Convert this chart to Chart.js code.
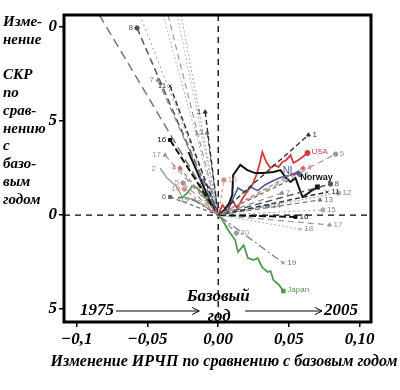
<!DOCTYPE html>
<html><head><meta charset="utf-8">
<script src="https://cdn.jsdelivr.net/npm/chart.js@4.4.1/dist/chart.umd.min.js"></script>
<style>html,body{margin:0;padding:0;background:#fff;overflow:hidden}</style>
</head><body>
<canvas id="c" width="400" height="390" style="display:block;width:400px;height:390px"></canvas>
<script>
// ---------- data ----------
const xTickValues = [-0.1, -0.05, 0, 0.05, 0.1];
const xTickLabels = ['−0,1', '−0,05', '0,00', '0,05', '0,10'];
const yTickValues = [-5, 0, 5, 10];
const yTickLabels = ['5', '0', '5', '0'];
const xTitle = 'Изменение ИРЧП по сравнению с базовым годом';
const yTitleLines = ['Изме-', 'нение', '', 'СКР', 'по', 'срав-', 'нению', 'с', 'базо-', 'вым', 'годом'];
const yearStart = '1975';
const yearBase = ['Базовый', 'год'];
const yearEnd = '2005';
const baseX = 0, baseY = 0;

// straight country rays: 1975 end (left) -> base year -> 2005 end (right)
const rayNames  = ['1', '4', '5', '6', '7', '8', '10', '11', '12', '13', '14', '15', '16', '17', '18', '19', '20', '', ''];
const rayLeftX  = [-0.0092, -0.027, -0.0248, -0.034, -0.0426, -0.0574, -0.024, -0.034, -0.0262, -0.0078, null, -0.0553, -0.034, -0.0376, -0.039, -0.0177, -0.0355, -0.084, -0.029];
const rayLeftY  = [5.48, 2.5, 1.7, 0.96, 7.18, 9.95, 1.38, 6.86, 10.64, 4.36, null, 10.64, 3.99, 3.19, 10.64, 0.8, 10.64, 10.64, 10.64];
const rayRightX = [0.0638, 0.060, 0.083, 0.058, 0.045, 0.0794, 0.004, 0.077, 0.085, 0.072, 0.035, 0.074, 0.0546, 0.0787, 0.058, 0.046, 0.0128, null, null];
const rayRightY = [4.26, 2.5, 3.24, 2.13, 1.17, 1.65, 1.86, 1.22, 1.17, 0.8, 0.48, 0.27, -0.1, -0.53, -0.75, -2.55, -0.96, null, null];

// wiggly country paths
const usaX = [-0.0045, -0.0025, 0, 0.003, 0.0064, 0.0099, 0.0135, 0.017, 0.0213, 0.0241, 0.027, 0.0291, 0.0312, 0.034, 0.0369, 0.0397, 0.0426, 0.0454, 0.0482, 0.0511, 0.0532, 0.0567, 0.0596, 0.0631];
const usaY = [0.85, 0.4, 0, 0.53, 0.2, 0.8, 0.35, 0.85, 1.33, 1.6, 2.13, 2.66, 3.35, 2.82, 2.5, 2.66, 2.55, 2.82, 2.93, 3.19, 2.77, 2.93, 3.09, 3.3];
const norwayX = [-0.021, -0.0071, 0, 0.0043, 0.0078, 0.0099, 0.0106, 0.0156, 0.0206, 0.0262, 0.0319, 0.039, 0.044, 0.0475, 0.0511, 0.0546, 0.0567, 0.0596, 0.0638, 0.0667, 0.0702];
const norwayY = [3.35, 0.96, 0, 0.27, 0.64, 1.06, 2.13, 2.66, 2.39, 2.23, 2.23, 2.29, 2.39, 2.02, 1.76, 1.97, 1.54, 0.96, 1.17, 1.33, 1.49];
const nlX = [-0.0135, -0.0106, -0.0085, -0.0043, -0.0057, -0.0014, -0.0028, 0, 0.007, 0.011, 0.014, 0.019, 0.023, 0.028, 0.033, 0.038, 0.044, 0.05, 0.0567];
const nlY = [1.97, 1.86, 1.6, 1.33, 1.01, 0.9, 0.53, 0, 0.27, 0.96, 1.44, 1.22, 1.49, 1.3, 1.6, 1.8, 2.0, 2.1, 2.23];
const japanX = [-0.0284, -0.0248, -0.0213, -0.0184, -0.0149, -0.0113, -0.0078, -0.0043, 0, 0.003, 0.007, 0.012, 0.014, 0.018, 0.021, 0.025, 0.028, 0.031, 0.035, 0.037, 0.039, 0.043, 0.046];
const japanY = [0.9, 0.96, 1.22, 1.54, 1.44, 1.17, 0.8, 0.43, 0, -0.27, -0.8, -1.33, -1.97, -1.6, -2.29, -2.39, -2.29, -2.77, -3.03, -2.98, -3.46, -3.72, -4.04];
const twoX = [-0.0411, -0.0362, -0.0291, -0.0255, -0.0163, -0.0057, 0];
const twoY = [2.5, 1.97, 1.49, 0.96, 0.8, 0.27, 0];

// ---------- styles ----------
const rayColors  = ['#333', '#c66', '#999', '#666', '#888', '#555', '#d88', '#333', '#aaa', '#777', '#6670a0', '#aaa', '#111', '#999', '#bbb', '#777', '#999', '#777', '#bbb'];
const rayDashes  = [[5,3],[4,3],[6,4],[4,3],[6,4],[7,4],[3,3],[5,3],[2,2],[5,3],[5,3],[2,3],[7,3],[6,4],[2,2],[8,3,2,3],[6,4],[9,5],[2,2]];
const rayWidths  = [1.4, 1.2, 1.2, 1.2, 1.2, 1.5, 1.1, 1.5, 1.1, 1.2, 1.2, 1.1, 2, 1.2, 1.1, 1.2, 1.2, 1.5, 1.1];
const rayMarkers = ['triangle','rectRot','circle','rect','triangle','circle','circle','crossRot','circle','triangle','rect','circle','rect','triangle','cross','crossRot','circle',false,false];

const TOP = 10.64;
const datasets = [];
rayNames.forEach((n, i) => {
  const pts = [];
  if (rayLeftX[i] !== null) pts.push({x: rayLeftX[i], y: rayLeftY[i], end: 'L'});
  pts.push({x: baseX, y: baseY, end: ''});
  if (rayRightX[i] !== null) pts.push({x: rayRightX[i], y: rayRightY[i], end: 'R'});
  datasets.push({
    label: n, kind: 'ray', data: pts,
    borderColor: rayColors[i], backgroundColor: rayColors[i],
    borderWidth: rayWidths[i], borderDash: rayDashes[i],
    pointRadius: pts.map(p => (p.end && p.y < TOP - 0.05 && rayMarkers[i]) ? 2.2 : 0),
    pointStyle: rayMarkers[i] || 'circle',
    pointBorderColor: rayColors[i], pointBackgroundColor: rayColors[i], pointBorderWidth: 1
  });
});
function path(label, xs, ys, color, width, marker, labelSide) {
  const pts = xs.map((x, i) => ({x, y: ys[i]}));
  datasets.push({
    label, kind: 'path', side: labelSide, data: pts,
    borderColor: color, backgroundColor: color, borderWidth: width,
    pointRadius: pts.map((p, i) => (marker && (i === pts.length - 1)) ? 2 : 0),
    pointStyle: marker || 'circle', pointBorderColor: color, pointBackgroundColor: color
  });
}
path('2', twoX, twoY, '#999', 1.4, 'cross', 'L0');
path('NL', nlX, nlY, '#4a5890', 1.6, 'rectRot', 'NL');
path('Japan', japanX, japanY, '#4f9a4f', 1.8, 'rect', 'R');
path('Norway', norwayX, norwayY, '#111', 2, 'rect', 'N');
path('USA', usaX, usaY, '#d33c3c', 1.8, 'circle', 'R');

const SERIF = '"Liberation Serif", "Times New Roman", serif';
const tickFont = {family: SERIF, size: 17, style: 'italic', weight: 'bold'};

const overlay = {
  id: 'overlay',
  beforeDatasetsDraw(chart) {
    const {ctx, chartArea: a, scales: {x, y}} = chart;
    const x0 = x.getPixelForValue(baseX), y0 = y.getPixelForValue(baseY);
    ctx.save();
    ctx.strokeStyle = '#000'; ctx.lineWidth = 1.3; ctx.setLineDash([6, 5]);
    ctx.beginPath();
    ctx.moveTo(x0, a.top); ctx.lineTo(x0, a.bottom);
    ctx.moveTo(a.left, y0); ctx.lineTo(a.right, y0);
    ctx.stroke();
    ctx.restore();
  },
  afterDatasetsDraw(chart) {
    const {ctx} = chart;
    ctx.save();
    const small = '8px "Liberation Sans", Arial, sans-serif';
    ctx.font = small;
    ctx.textBaseline = 'middle';
    chart.data.datasets.forEach((ds, di) => {
      const meta = chart.getDatasetMeta(di);
      if (ds.kind === 'ray') {
        if (!ds.label) return;
        ds.data.forEach((p, j) => {
          if (!p.end || p.y >= TOP - 0.05) return;
          const el = meta.data[j];
          ctx.fillStyle = ds.borderColor === '#bbb' || ds.borderColor === '#aaa' ? '#888' : ds.borderColor;
          if (p.end === 'L') { ctx.textAlign = 'right'; ctx.fillText(ds.label, el.x - 4, el.y); }
          else { ctx.textAlign = 'left'; ctx.fillText(ds.label, el.x + 4, el.y); }
        });
      } else {
        const el = meta.data[meta.data.length - 1];
        const first = meta.data[0];
        ctx.fillStyle = ds.borderColor;
        if (ds.side === 'R') { ctx.textAlign = 'left'; ctx.fillText(ds.label, el.x + 4, el.y - 1); }
        else if (ds.side === 'N') { ctx.textAlign = 'center'; ctx.font = 'bold 9px "Liberation Sans", Arial, sans-serif'; ctx.fillText(ds.label, el.x - 1, el.y - 10); ctx.font = small; }
        else if (ds.side === 'NL') { ctx.textAlign = 'right'; ctx.font = '10px "Liberation Sans", Arial, sans-serif'; ctx.fillText(ds.label, el.x - 3, el.y - 2); ctx.font = small; }
        else if (ds.side === 'L0') { ctx.textAlign = 'right'; ctx.fillText(ds.label, first.x - 4, first.y + 1); }
      }
    });
    ctx.restore();
  },
  afterDraw(chart) {
    const {ctx, chartArea: a, scales: {x}} = chart;
    ctx.save();
    ctx.strokeStyle = '#000'; ctx.lineWidth = 3;
    ctx.strokeRect(a.left, a.top, a.right - a.left, a.bottom - a.top);
    const x0 = x.getPixelForValue(baseX);
    const yy = a.bottom - 11;
    ctx.fillStyle = '#000';
    ctx.font = 'italic bold 17px ' + SERIF;
    ctx.textBaseline = 'middle';
    ctx.textAlign = 'left';
    ctx.fillText(yearStart, a.left + 16, yy);
    ctx.textAlign = 'right';
    ctx.fillText(yearEnd, a.right - 13, yy);
    ctx.textAlign = 'center';
    ctx.fillText(yearBase[0], x0, yy - 14);
    ctx.fillText(yearBase[1], x0 + 1, yy + 6);
    const arrow = (x1, x2) => {
      ctx.beginPath(); ctx.lineWidth = 1; ctx.strokeStyle = '#000';
      ctx.moveTo(x1, yy); ctx.lineTo(x2, yy);
      ctx.moveTo(x2 - 7, yy - 3.5); ctx.lineTo(x2, yy); ctx.lineTo(x2 - 7, yy + 3.5);
      ctx.stroke();
    };
    arrow(a.left + 52, x0 - 19);
    arrow(x0 + 27, a.right - 49);
    ctx.font = 'italic bold 16px ' + SERIF;
    ctx.textAlign = 'center';
    ctx.fillText(xTitle, 224, 362);
    ctx.font = 'italic bold 15px ' + SERIF;
    ctx.textAlign = 'left';
    yTitleLines.forEach((t, i) => ctx.fillText(t, 3, 22 + i * 17.8));
    ctx.restore();
  }
};

new Chart(document.getElementById('c'), {
  type: 'line',
  data: {datasets},
  options: {
    responsive: false, animation: false, devicePixelRatio: 1,
    layout: {padding: {top: 15, right: 29, left: 0, bottom: 0}},
    plugins: {legend: {display: false}, tooltip: {enabled: false}},
    elements: {line: {tension: 0, fill: false}},
    scales: {
      x: {
        type: 'linear', min: -0.109, max: 0.108,
        afterBuildTicks: s => { s.ticks = xTickValues.map(v => ({value: v})); },
        afterFit: s => { s.height = 68; },
        grid: {display: true, drawOnChartArea: false, drawTicks: true, tickLength: 5, color: '#000', lineWidth: 1.5},
        border: {display: false},
        ticks: {callback: (v, i) => xTickLabels[i], font: tickFont, color: '#000', padding: 2, maxRotation: 0, autoSkip: false}
      },
      y: {
        type: 'linear', min: -5.69, max: 10.64,
        afterBuildTicks: s => { s.ticks = yTickValues.map(v => ({value: v})); },
        afterFit: s => { s.width = 64; },
        grid: {display: true, drawOnChartArea: false, drawTicks: true, tickLength: 5, color: '#000', lineWidth: 1.5},
        border: {display: false},
        ticks: {callback: (v, i) => yTickLabels[i], font: tickFont, color: '#000', padding: 2, autoSkip: false}
      }
    }
  },
  plugins: [overlay]
});
</script>
</body></html>
